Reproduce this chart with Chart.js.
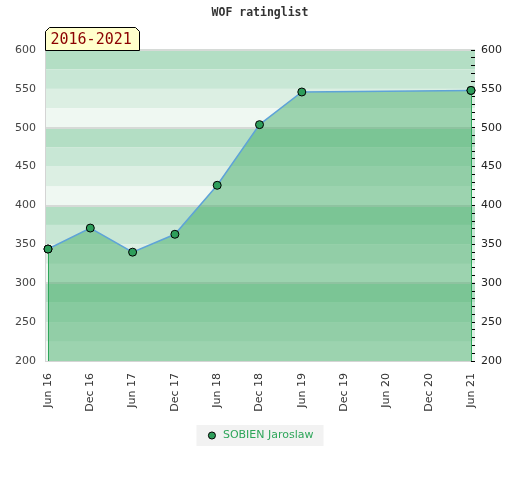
<!DOCTYPE html>
<html>
<head>
<meta charset="utf-8">
<script src="https://cdn.jsdelivr.net/npm/chart.js@4"></script>
<style>
  html, body { margin: 0; padding: 0; background: #fff; }
  #wrap { width: 520px; height: 480px; }
</style>
</head>
<body>
<div id="wrap"><canvas id="ratingChart" width="520" height="480"></canvas></div>
<script>
    // Chart data
    const labels = ['Jun 16', 'Dec 16', 'Jun 17', 'Dec 17', 'Jun 18', 'Dec 18', 'Jun 19', 'Dec 19', 'Jun 20', 'Dec 20', 'Jun 21'];
    const ratings = [344, 371, 340, 363, 426, 504, 546, null, null, null, 548];
    const playerName = 'SOBIEN Jaroslaw';
    const chartTitle = 'WOF ratinglist';
    const periodLabel = '2016-2021';
    const yMin = 200;
    const yMax = 600;
    const yStep = 50;

    // band colours, top to bottom inside every 100 points
    const bandColors = ['#b3dec4', '#c8e7d5', '#dcefe3', '#eff8f2'];

    // Background bands, borders, title and period box
    const decorPlugin = {
      id: 'decor',
      beforeDraw(chart) {
        const ctx = chart.ctx;
        const y = chart.scales.y;
        const left = chart.chartArea.left - 2;
        const right = chart.chartArea.right + 4;
        ctx.save();

        // bands behind everything (ticks of the right axis stay on top)
        for (let v = yMax; v > yMin; v -= 25) {
          const idx = Math.round((yMax - v) / 25) % 4;
          const top = y.getPixelForValue(v);
          const bot = y.getPixelForValue(v - 25);
          ctx.fillStyle = bandColors[idx];
          ctx.fillRect(left, top, right - left, bot - top);
        }
        ctx.fillStyle = '#d6dad7';
        for (let v = yMax; v > yMin; v -= 100) {
          ctx.fillRect(left, Math.round(y.getPixelForValue(v)) - 1, right - left, 2);
        }
        ctx.fillStyle = '#d4d4d4';
        ctx.fillRect(left - 1, y.getPixelForValue(yMax) - 1, 1, y.getPixelForValue(yMin) - y.getPixelForValue(yMax) + 2);
        ctx.fillRect(left - 1, Math.round(y.getPixelForValue(yMin)), right - left + 1, 1);

        // title
        ctx.fillStyle = '#333';
        ctx.font = 'bold 11.5px "DejaVu Sans Mono"';
        ctx.textAlign = 'center';
        ctx.textBaseline = 'middle';
        ctx.fillText(chartTitle, 260, 13);

        // period box with chamfered top corners
        const bx = 45.5, by = 27.5, bw = 94, bh = 23, c = 4;
        ctx.beginPath();
        ctx.moveTo(bx, by + bh);
        ctx.lineTo(bx, by + c);
        ctx.lineTo(bx + c, by);
        ctx.lineTo(bx + bw - c, by);
        ctx.lineTo(bx + bw, by + c);
        ctx.lineTo(bx + bw, by + bh);
        ctx.closePath();
        ctx.fillStyle = '#ffffcc';
        ctx.fill();
        ctx.strokeStyle = '#000';
        ctx.lineWidth = 1;
        ctx.stroke();
        ctx.fillStyle = '#8b0000';
        ctx.font = '15px "DejaVu Sans Mono"';
        ctx.textAlign = 'left';
        ctx.fillText(periodLabel, bx + 5, by + 13);

        // legend background
        const hb = chart.legend && chart.legend.legendHitBoxes && chart.legend.legendHitBoxes[0];
        if (hb) {
          ctx.fillStyle = '#f2f2f2';
          ctx.fillRect(hb.left - 10, hb.top - 5, hb.width + 20, hb.height + 10);
        }
        ctx.restore();
      },
      afterDatasetsDraw(chart) {
        // vertical edges of the filled area
        const ctx = chart.ctx;
        const meta = chart.getDatasetMeta(0);
        const bottom = chart.scales.y.getPixelForValue(yMin);
        const pts = meta.data.filter((p, i) => ratings[i] !== null);
        const first = pts[0];
        const last = pts[pts.length - 1];
        ctx.save();
        ctx.strokeStyle = '#2ea65a';
        ctx.lineWidth = 1;
        [first, last].forEach(p => {
          ctx.beginPath();
          ctx.moveTo(Math.round(p.x) + 0.5, p.y + 4);
          ctx.lineTo(Math.round(p.x) + 0.5, bottom);
          ctx.stroke();
        });
        // redraw end points over the edges
        [first, last].forEach(p => p.draw(ctx, chart.chartArea));
        ctx.restore();
      }
    };

    const ctxEl = document.getElementById('ratingChart');
    new Chart(ctxEl, {
      type: 'line',
      data: {
        labels: labels,
        datasets: [{
          label: playerName,
          data: ratings,
          borderColor: '#5ea3d8',
          borderWidth: 1.5,
          backgroundColor: 'rgba(55, 166, 94, 0.45)',
          fill: 'start',
          spanGaps: true,
          tension: 0,
          pointRadius: 4,
          pointBackgroundColor: '#2e9e5b',
          pointBorderColor: '#000',
          pointBorderWidth: 1,
          yAxisID: 'y'
        }]
      },
      options: {
        responsive: false,
        animation: false,
        devicePixelRatio: 1,
        layout: {
          padding: { top: 50, left: 0, right: 0, bottom: 29 }
        },
        plugins: {
          title: { display: false },
          tooltip: { enabled: false },
          legend: {
            position: 'bottom',
            labels: {
              usePointStyle: true,
              boxHeight: 5,
              padding: 10,
              font: { family: 'DejaVu Sans', size: 11 },
              generateLabels: function(chart) {
                return [{
                  text: playerName,
                  fillStyle: '#2e9e5b',
                  strokeStyle: '#000',
                  lineWidth: 1,
                  pointStyle: 'circle',
                  fontColor: '#2ea65a',
                  datasetIndex: 0
                }];
              }
            }
          }
        },
        scales: {
          x: {
            offset: false,
            afterFit: function(scale) { scale.height = 59; },
            grid: { display: true, drawOnChartArea: false, color: 'transparent', tickLength: 8 },
            border: { display: false },
            ticks: {
              autoSkip: false,
              maxRotation: 90,
              minRotation: 90,
              padding: 4,
              color: '#333',
              font: { family: 'DejaVu Sans', size: 11 }
            }
          },
          y: {
            position: 'left',
            min: yMin,
            max: yMax,
            afterFit: function(scale) { scale.width = 48; },
            grid: { display: false, drawTicks: false },
            border: { display: false },
            ticks: {
              stepSize: yStep,
              padding: 12,
              color: '#444',
              font: { family: 'DejaVu Sans', size: 11 }
            }
          },
          y2: {
            position: 'right',
            min: yMin,
            max: yMax,
            afterFit: function(scale) { scale.width = 49; },
            grid: { display: true, drawOnChartArea: false, color: '#000', tickLength: 4 },
            border: { display: false },
            ticks: {
              stepSize: 10,
              autoSkip: false,
              padding: 6,
              color: '#222',
              font: { family: 'DejaVu Sans', size: 11 },
              callback: function(value) {
                return value % yStep === 0 ? value : '';
              }
            }
          }
        }
      },
      plugins: [decorPlugin]
    });
</script>
</body>
</html>
